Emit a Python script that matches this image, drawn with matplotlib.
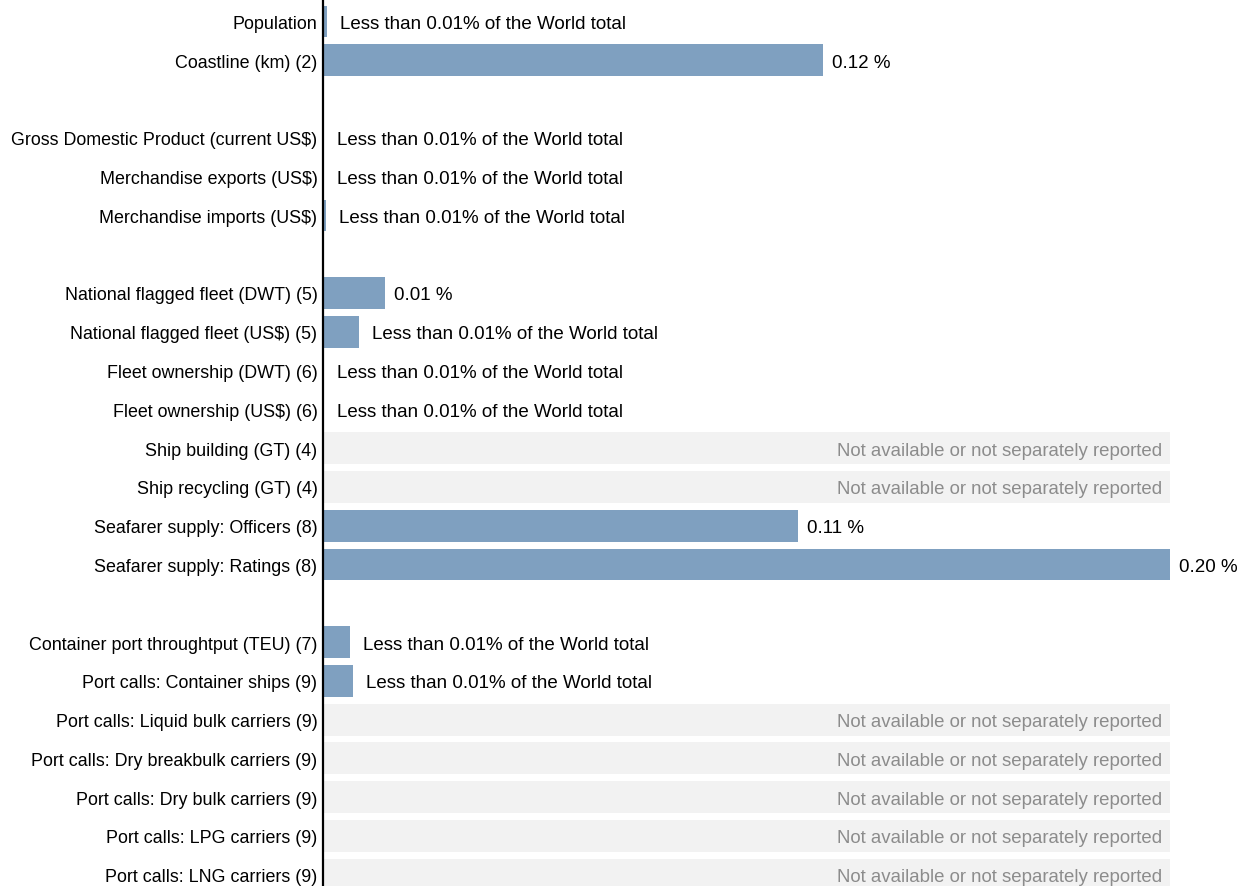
import numpy as np
import matplotlib
matplotlib.use("Agg")
import matplotlib.pyplot as plt
from matplotlib.transforms import offset_copy

plt.rcParams['font.family'] = ['Liberation Sans', 'DejaVu Sans']

categories = [
    "Population", "Coastline (km) (2)", None,
    "Gross Domestic Product (current US$)", "Merchandise exports (US$)", "Merchandise imports (US$)", None,
    "National flagged fleet (DWT) (5)", "National flagged fleet (US$) (5)",
    "Fleet ownership (DWT) (6)", "Fleet ownership (US$) (6)",
    "Ship building (GT) (4)", "Ship recycling (GT) (4)",
    "Seafarer supply: Officers (8)", "Seafarer supply: Ratings (8)", None,
    "Container port throughtput (TEU) (7)", "Port calls: Container ships (9)",
    "Port calls: Liquid bulk carriers (9)", "Port calls: Dry breakbulk carriers (9)",
    "Port calls: Dry bulk carriers (9)", "Port calls: LPG carriers (9)",
    "Port calls: LNG carriers (9)",
]
# share of world total (%); NaN = not available
values = [
    0.0009, 0.118, None,
    0.0002, 0.0002, 0.0007, None,
    0.0146, 0.0085,
    0.0002, 0.0002,
    np.nan, np.nan,
    0.1122, 0.200, None,
    0.0064, 0.0071,
    np.nan, np.nan, np.nan, np.nan, np.nan,
]
labels = [
    "Less than 0.01% of the World total", "0.12 %", None,
    "Less than 0.01% of the World total", "Less than 0.01% of the World total",
    "Less than 0.01% of the World total", None,
    "0.01 %", "Less than 0.01% of the World total",
    "Less than 0.01% of the World total", "Less than 0.01% of the World total",
    "Not available or not separately reported", "Not available or not separately reported",
    "0.11 %", "0.20 %", None,
    "Less than 0.01% of the World total", "Less than 0.01% of the World total",
    "Not available or not separately reported", "Not available or not separately reported",
    "Not available or not separately reported", "Not available or not separately reported",
    "Not available or not separately reported",
]

BAR = "#7fa0c0"
NA_BG = "#f2f2f2"
NA_TXT = "#8c8c8c"
XMAX = 0.2

W, H = 1246, 887
fig = plt.figure(figsize=(W / 100, H / 100), dpi=100)
ax = fig.add_axes([323 / W, 0, 847 / W, 1])

ypos, ylabels = [], []
for i, (cat, v, lab) in enumerate(zip(categories, values, labels)):
    if cat is None:
        continue
    ypos.append(i)
    ylabels.append(cat)
    if v is not None and np.isnan(v):
        ax.barh(i, XMAX, height=0.82, color=NA_BG, zorder=1)
        t = offset_copy(ax.transData, fig=fig, x=-8, y=0, units='dots')
        ax.text(XMAX, i, lab, transform=t, ha='right', va='center_baseline',
                color=NA_TXT, fontsize=13.4, clip_on=False)
    else:
        ax.barh(i, v, height=0.82, color=BAR, zorder=2)
        off = 9 if not lab.startswith("Less") else 13
        t = offset_copy(ax.transData, fig=fig, x=off, y=0, units='dots')
        ax.text(v, i, lab, transform=t, ha='left', va='center_baseline',
                color='black', fontsize=13.5, clip_on=False)

ax.set_xlim(0, XMAX)
ax.set_ylim(22.29, -0.58)
ax.set_yticks(ypos)
ax.set_yticklabels(ylabels, fontsize=12.9)
ax.tick_params(axis='y', length=0, pad=4)
ax.set_xticks([])
for s in ['top', 'right', 'bottom']:
    ax.spines[s].set_visible(False)
ax.spines['left'].set_linewidth(1.6)
ax.spines['left'].set_zorder(5)
ax.patch.set_alpha(0)

fig.savefig("out.png", dpi=100)
